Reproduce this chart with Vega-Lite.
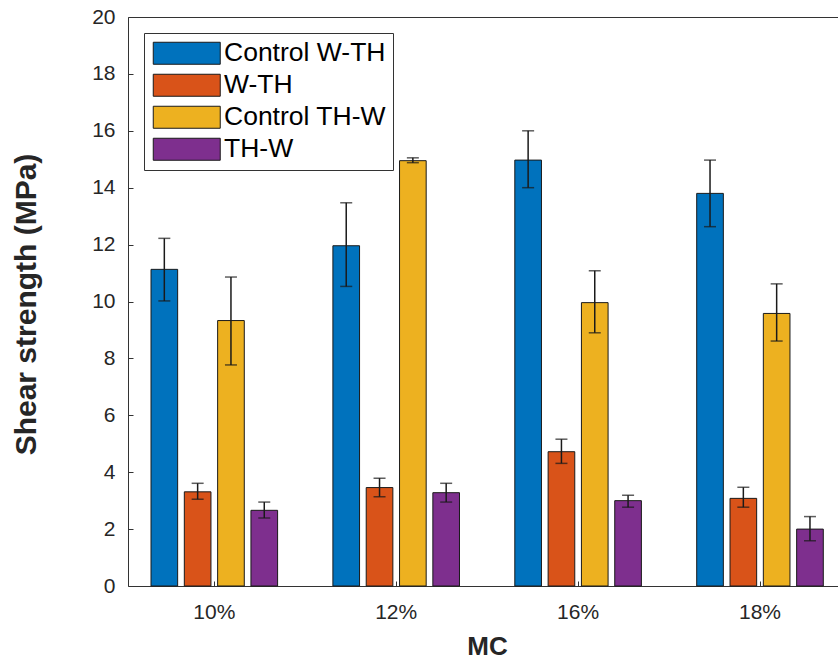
{
  "$schema": "https://vega.github.io/schema/vega-lite/v6.json",
  "width": 711,
  "height": 569,
  "autosize": {"type": "none"},
  "padding": {"left": 128, "top": 17, "right": 0, "bottom": 75},
  "background": "white",
  "config": {
    "font": "Liberation Sans",
    "view": {"stroke": "#333333", "strokeWidth": 1},
    "axis": {"grid": false, "domain": false, "tickColor": "#333333", "labelColor": "#262626", "titleColor": "#262626", "labelFont": "Liberation Sans", "titleFont": "Liberation Sans"}
  },
  "datasets": {
    "d": [
      {"mc": "10%", "series": "Control W-TH", "value": 11.13, "lo": 10.02, "hi": 12.22},
      {"mc": "10%", "series": "W-TH", "value": 3.31, "lo": 3.05, "hi": 3.61},
      {"mc": "10%", "series": "Control TH-W", "value": 9.33, "lo": 7.77, "hi": 10.86},
      {"mc": "10%", "series": "TH-W", "value": 2.66, "lo": 2.39, "hi": 2.95},
      {"mc": "12%", "series": "Control W-TH", "value": 11.96, "lo": 10.53, "hi": 13.47},
      {"mc": "12%", "series": "W-TH", "value": 3.46, "lo": 3.14, "hi": 3.79},
      {"mc": "12%", "series": "Control TH-W", "value": 14.95, "lo": 14.88, "hi": 15.05},
      {"mc": "12%", "series": "TH-W", "value": 3.28, "lo": 2.95, "hi": 3.61},
      {"mc": "16%", "series": "Control W-TH", "value": 14.97, "lo": 14.0, "hi": 16.0},
      {"mc": "16%", "series": "W-TH", "value": 4.72, "lo": 4.31, "hi": 5.16},
      {"mc": "16%", "series": "Control TH-W", "value": 9.96, "lo": 8.9, "hi": 11.08},
      {"mc": "16%", "series": "TH-W", "value": 3.0, "lo": 2.77, "hi": 3.19},
      {"mc": "18%", "series": "Control W-TH", "value": 13.8, "lo": 12.63, "hi": 14.97},
      {"mc": "18%", "series": "W-TH", "value": 3.08, "lo": 2.77, "hi": 3.47},
      {"mc": "18%", "series": "Control TH-W", "value": 9.58, "lo": 8.61, "hi": 10.62},
      {"mc": "18%", "series": "TH-W", "value": 2.0, "lo": 1.59, "hi": 2.44}
    ]
  },
  "data": {"name": "d"},
  "encoding": {
    "x": {
      "field": "mc", "type": "nominal",
      "scale": {"domain": ["10%", "12%", "16%", "18%"], "range": [-4.65, 722.95], "paddingInner": 0, "paddingOuter": 0},
      "axis": {"title": "MC", "labelAngle": 0, "labelFontSize": 21, "tickSize": -5, "labelPadding": 20, "titleFontSize": 26, "titleFontWeight": "bold", "titleX": 359, "titleY": 68, "titleBaseline": "alphabetic", "titleAnchor": null}
    },
    "xOffset": {
      "field": "series", "type": "nominal",
      "scale": {"domain": ["Control W-TH", "W-TH", "Control TH-W", "TH-W"], "paddingInner": 0.2, "paddingOuter": 0.83}
    }
  },
  "layer": [
    {
      "mark": {"type": "bar", "stroke": "#1a1a1a", "strokeWidth": 1},
      "encoding": {
        "y": {
          "field": "value", "type": "quantitative",
          "scale": {"domain": [0, 20], "nice": false, "zero": true},
          "axis": {"title": "Shear strength (MPa)", "values": [0, 2, 4, 6, 8, 10, 12, 14, 16, 18, 20], "labelFontSize": 21, "tickSize": -5, "labelPadding": 18, "titleFontSize": 30, "titleFontWeight": "bold", "titleX": -93, "titleY": 287, "titleBaseline": "alphabetic", "titleAngle": -90, "titleAlign": "center"}
        },
        "color": {
          "field": "series", "type": "nominal",
          "scale": {"domain": ["Control W-TH", "W-TH", "Control TH-W", "TH-W"], "range": ["#0072BD", "#D95319", "#EDB120", "#7E2F8E"]},
          "legend": {"title": null, "orient": "none", "legendX": 16, "legendY": 16, "symbolType": "M-3.045,-1H3.045V1H-3.045Z", "symbolSize": 484, "symbolOffset": 22.5, "symbolStrokeColor": "#1a1a1a", "symbolStrokeWidth": 1, "symbolOpacity": 1, "labelFontSize": 26.5, "labelLimit": 400, "labelColor": "#000000", "labelOffset": 24, "fillColor": "white", "strokeColor": "#333333", "padding": 7, "rowPadding": 5}
        }
      }
    },
    {
      "mark": {"type": "rule", "color": "#1a1a1a", "strokeWidth": 1.5},
      "encoding": {
        "y": {"field": "lo", "type": "quantitative"},
        "y2": {"field": "hi"}
      }
    },
    {
      "mark": {"type": "tick", "color": "#1a1a1a", "size": 12, "thickness": 1.5, "orient": "horizontal"},
      "encoding": {"y": {"field": "lo", "type": "quantitative"}}
    },
    {
      "mark": {"type": "tick", "color": "#1a1a1a", "size": 12, "thickness": 1.5, "orient": "horizontal"},
      "encoding": {"y": {"field": "hi", "type": "quantitative"}}
    }
  ]
}
